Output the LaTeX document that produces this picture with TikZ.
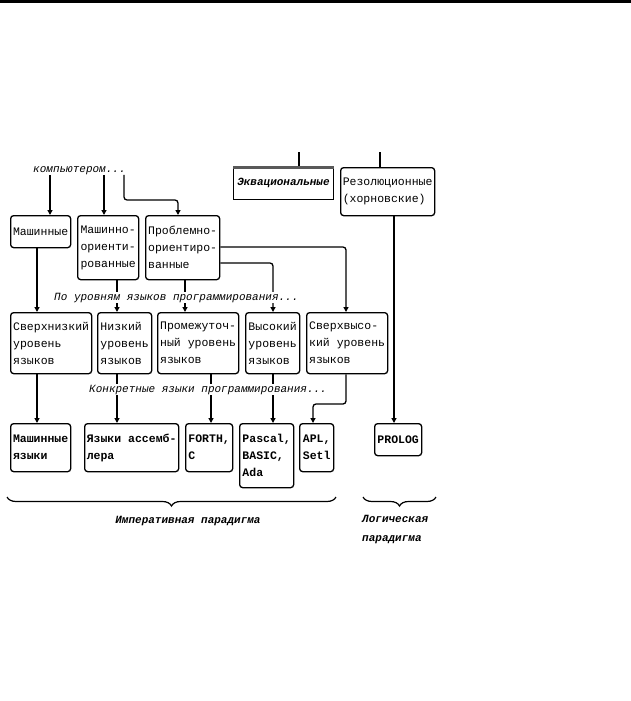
\documentclass[tikz,border=0pt]{standalone}
\usepackage{fontspec}
\setmainfont{Liberation Mono}
\usetikzlibrary{arrows.meta, positioning, calc, decorations.pathreplacing}

\begin{document}
\begin{tikzpicture}[x=1pt, y=-1pt,
  blok/.style={draw, line width=1.3pt, rounded corners=3pt, anchor=north west, align=left, inner sep=1.5pt, font=\fontsize{11.5}{17}\selectfont},
  blokb/.style={blok, font=\fontsize{11.5}{17}\selectfont\bfseries},
  strelka/.style={line width=1.3pt, rounded corners=3pt, -{Triangle[length=5pt,width=5pt]}},
  linia/.style={line width=1.3pt},
  podpis/.style={font=\fontsize{11}{13}\selectfont\itshape, fill=white, inner sep=1pt, anchor=base west},
  paradigma/.style={font=\fontsize{11}{19}\selectfont\bfseries\itshape, inner sep=0pt, align=left},
  skobka/.style={line width=1.2pt, decorate, decoration={brace, mirror, amplitude=9pt}}]
  \useasboundingbox (0,0) rectangle (631,701);

  % Top bar
  \fill (0,0) rectangle (631,3);

  % Upper label
  \node[podpis, inner sep=0pt] (komp) at (33,172.5) {компьютером...};

  % Row 1
  \node[blok, minimum width=60pt, minimum height=32pt] (mash) at (10,215) {Машинные};
  \node[blok, minimum width=61pt, minimum height=64pt] (mashor) at (77,215) {Машинно-\\ориенти-\\рованные};
  \node[blok, minimum width=74pt, minimum height=64pt] (probl) at (145,215) {Проблемно-\\ориентиро-\\ванные};
  \node[draw, line width=1pt, anchor=north west, minimum width=100pt, minimum height=33pt, inner sep=2pt,
        font=\fontsize{11}{17}\selectfont\bfseries\itshape] (ekv) at (233,166) {Эквациональные};
  \draw[line width=3pt, black!65] ([yshift=-1.5pt]ekv.north west) -- ([yshift=-1.5pt]ekv.north east);
  \node[blok, minimum width=94pt, minimum height=48pt] (rez) at (340,167) {Резолюционные\\(хорновские)};

  % Row 2
  \node[blok, minimum width=81pt, minimum height=61pt] (snz) at (10,312) {Сверхнизкий\\уровень\\языков};
  \node[blok, minimum width=54pt, minimum height=61pt] (niz) at (97,312) {Низкий\\уровень\\языков};
  \node[blok, minimum width=81pt, minimum height=61pt] (prom) at (157,312) {Промежуточ-\\ный уровень\\языков};
  \node[blok, minimum width=54pt, minimum height=61pt] (vys) at (245,312) {Высокий\\уровень\\языков};
  \node[blok, minimum width=81pt, minimum height=61pt] (svys) at (306,312) {Сверхвысо-\\кий уровень\\языков};

  % Row 3
  \node[blokb, minimum width=60pt, minimum height=48pt] (mashyaz) at (10,423) {Машинные\\языки};
  \node[blokb, minimum width=94pt, minimum height=48pt] (assm) at (84,423) {Языки ассемб-\\лера};
  \node[blokb, minimum width=47pt, minimum height=48pt] (forth) at (185,423) {FORTH,\\C};
  \node[blokb, minimum width=54pt, minimum height=64pt] (pascal) at (239,423) {Pascal,\\BASIC,\\Ada};
  \node[blokb, minimum width=34pt, minimum height=48pt] (apl) at (299,423) {APL,\\Setl};
  \node[blokb, minimum width=47pt, minimum height=32pt] (prolog) at (374,423) {PROLOG};

  % Connectors
  \draw[strelka] ([xshift=17pt]komp.south west) -- ([xshift=40pt]mash.north west);
  \draw[strelka] ([xshift=71pt]komp.south west) -- ([xshift=27pt]mashor.north west);
  \draw[strelka] ([xshift=91pt]komp.south west) |- ([xshift=33pt,yshift=15pt]probl.north west) -- ([xshift=33pt]probl.north west);
  \coordinate (ekvverh) at (299,152);
  \coordinate (rezverh) at (380,152);
  \draw[linia] (ekvverh) -- (ekvverh |- ekv.north);
  \draw[linia] (rezverh) -- (rezverh |- rez.north);

  \draw[strelka] ([xshift=27pt]mash.south west) -- ([xshift=27pt]snz.north west);
  \draw[strelka] ([xshift=40pt]mashor.south west) -- ([xshift=20pt]niz.north west);
  \draw[strelka] ([xshift=40pt]probl.south west) -- ([xshift=28pt]prom.north west);
  \draw[strelka] ([yshift=-48pt]probl.north east) -| ([xshift=28pt]vys.north west);
  \draw[strelka] ([yshift=-32pt]probl.north east) -| ([xshift=40pt]svys.north west);

  \draw[strelka] ([xshift=27pt]snz.south west) -- ([xshift=27pt]mashyaz.north west);
  \draw[strelka] ([xshift=20pt]niz.south west) -- ([xshift=33pt]assm.north west);
  \draw[strelka] ([xshift=54pt]prom.south west) -- ([xshift=26pt]forth.north west);
  \draw[strelka] ([xshift=28pt]vys.south west) -- ([xshift=34pt]pascal.north west);
  \draw[strelka] ([xshift=40pt]svys.south west) |- ([xshift=14pt,yshift=19pt]apl.north west) -- ([xshift=14pt]apl.north west);
  \draw[strelka] ([xshift=54pt]rez.south west) -- ([xshift=20pt]prolog.north west);

  % Level labels
  \node[podpis] (urovni) at (53,300) {По уровням языков программирования...};
  \node[podpis] (konkr) at (88,392) {Конкретные языки программирования...};

  % Paradigms
  \coordinate (impL) at (7,497);
  \coordinate (impR) at (336,497);
  \coordinate (logL) at (363,497);
  \coordinate (logR) at (436,497);
  \draw[skobka] (impL) -- (impR);
  \draw[skobka] (logL) -- (logR);
  \node[paradigma, anchor=base] (imper) at (188,523) {Императивная парадигма};
  \node[paradigma, anchor=north west] (logic) at (362,515) {Логическая\\парадигма};
\end{tikzpicture}
\end{document}
